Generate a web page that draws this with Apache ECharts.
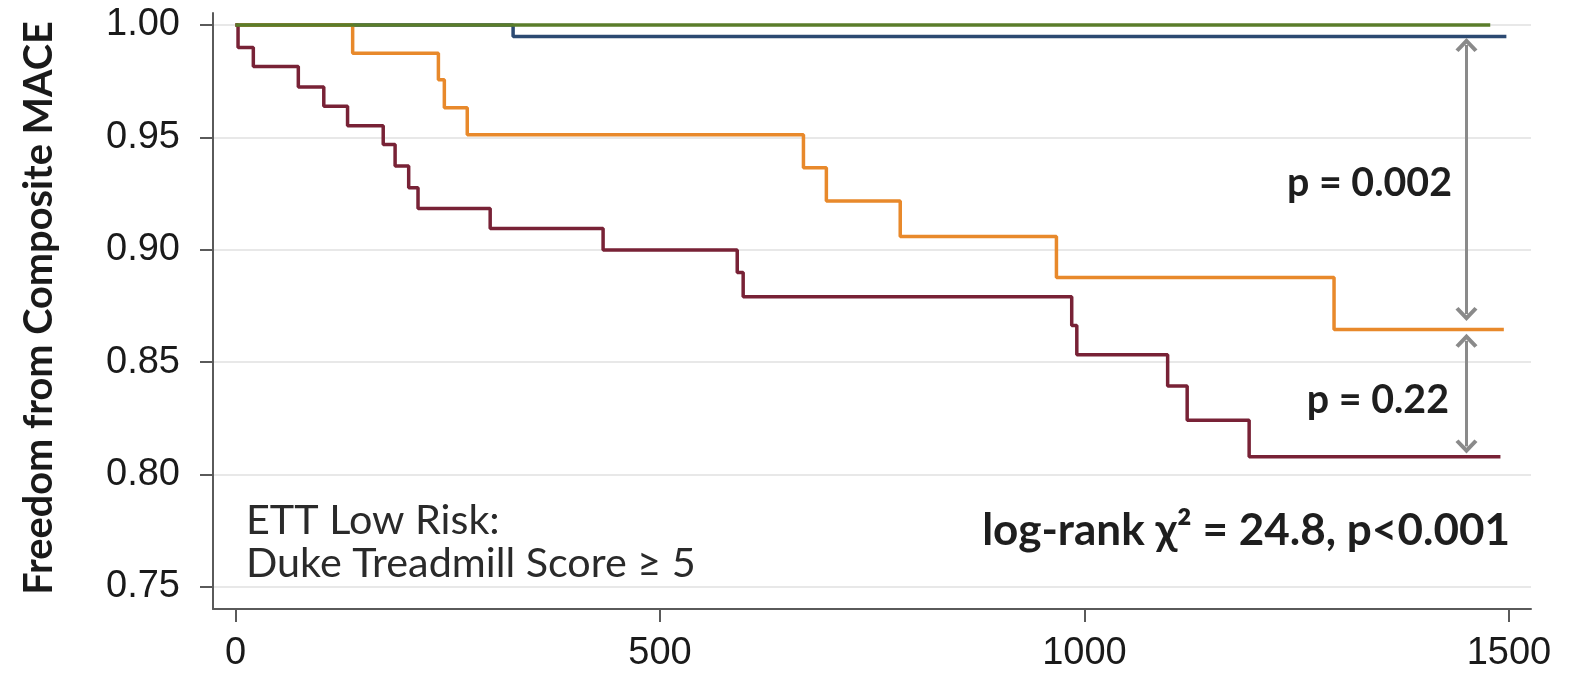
<!DOCTYPE html>
<html><head><meta charset="utf-8">
<script src="https://cdn.jsdelivr.net/npm/echarts@6/dist/echarts.min.js"></script>
<style>html,body{margin:0;padding:0;background:#fff}#c{width:1577px;height:678px}</style>
</head><body><div id="c"></div>
<script>
// ---- data ----
const xTicks = [0, 500, 1000, 1500];
const yTicks = [0.75, 0.80, 0.85, 0.90, 0.95, 1.00];

const greenT = [0, 1478];
const greenS = [1.0, 1.0];

const blueT = [0, 327, 1497];
const blueS = [1.0, 0.9948, 0.9948];

const orangeT = [0, 138, 239, 246, 273, 669, 696, 783, 967, 1294, 1494];
const orangeS = [1.0, 0.9874, 0.9756, 0.9631, 0.9512, 0.9365, 0.9217, 0.9059, 0.8877, 0.8645, 0.8645];

const redT = [0, 3, 21, 74, 104, 132, 174, 188, 204, 215, 300, 433, 591, 598, 985, 991, 1098, 1121, 1194, 1490];
const redS = [1.0, 0.990, 0.9815, 0.9724, 0.9638, 0.9552, 0.9468, 0.9372, 0.9276, 0.9183, 0.9094, 0.8999, 0.8899, 0.8791, 0.8663, 0.8533, 0.8394, 0.8242, 0.8079, 0.8079];

const arrowX = 1450;
const arrowUpper = [0.9911, 0.8714];
const arrowLower = [0.8595, 0.8125];

const yTitle = 'Freedom from Composite MACE';
const note1 = 'ETT Low Risk:';
const note2 = 'Duke Treadmill Score \u2265 5';
const logrank = 'log-rank \u03c7\u00b2 = 24.8, p<0.001';
const pUpper = 'p = 0.002';
const pLower = 'p = 0.22';

// ---- helpers ----
function pairs(t, s) { return t.map((v, i) => [v, s[i]]); }
const ctx = document.createElement('canvas').getContext('2d');
function fitSize(text, family, weight, target) {
  ctx.font = weight + ' 100px ' + family;
  return 100 * target / ctx.measureText(text).width;
}

const annFont = 'Lato';
const noteSize = fitSize(note2, annFont, 'normal', 450);
const lrSize = fitSize(logrank, annFont, 'bold', 528);
const pSize = fitSize(pUpper, annFont, 'bold', 165);
const titleSize = fitSize(yTitle, annFont, 'bold', 574);

const chev = 'path://M0,9 L9,0 L18,9 L15.5,11 L9,4.5 L2.5,11 Z';

const axisColor = '#5a5a5a';
const labelStyle = { color: '#1a1a1a', fontFamily: 'Liberation Sans', fontSize: 38 };
const gridLine = { show: true, lineStyle: { color: '#e8e8e8', width: 2, type: 'solid' } };

const chart = echarts.init(document.getElementById('c'), null, { renderer: 'canvas' });
chart.setOption({
  animation: false,
  backgroundColor: '#ffffff',
  grid: { left: 213, right: 46, top: 13, bottom: 69, containLabel: false },
  xAxis: {
    type: 'value', min: -26.5, max: 1526,
    axisLine: { show: true, onZero: false, lineStyle: { color: axisColor, width: 2 } },
    axisTick: { show: true, customValues: xTicks, length: 13, lineStyle: { color: axisColor, width: 2 } },
    axisLabel: Object.assign({ customValues: xTicks, margin: 26, formatter: v => String(v) }, labelStyle),
    splitLine: { show: false }
  },
  yAxis: {
    type: 'value', min: 0.7402, max: 1.0053,
    axisLine: { show: true, onZero: false, lineStyle: { color: axisColor, width: 2 } },
    axisTick: { show: true, customValues: yTicks, length: 13, lineStyle: { color: axisColor, width: 2 } },
    axisLabel: Object.assign({ customValues: yTicks, margin: 33, formatter: v => v.toFixed(2) }, labelStyle),
    splitLine: gridLine
  },
  series: [
    { name: 'blue', type: 'line', step: 'end', data: pairs(blueT, blueS), showSymbol: false, z: 3,
      lineStyle: { color: '#2c4a72', width: 3.5 } },
    { name: 'orange', type: 'line', step: 'end', data: pairs(orangeT, orangeS), showSymbol: false, z: 3,
      lineStyle: { color: '#e8892b', width: 3.5 } },
    { name: 'red', type: 'line', step: 'end', data: pairs(redT, redS), showSymbol: false, z: 3,
      lineStyle: { color: '#782236', width: 3.5 } },
    { name: 'green', type: 'line', step: 'end', data: pairs(greenT, greenS), showSymbol: false, z: 4,
      lineStyle: { color: '#5a7d2a', width: 3.5 } },
    {
      type: 'line', data: [], silent: true, z: 5,
      markLine: {
        silent: true, symbol: [chev, chev], symbolSize: [22, 14], label: { show: false },
        lineStyle: { color: '#8a8a8a', width: 3, type: 'solid' },
        data: [
          [{ coord: [arrowX, arrowUpper[0]] }, { coord: [arrowX, arrowUpper[1]] }],
          [{ coord: [arrowX, arrowLower[0]] }, { coord: [arrowX, arrowLower[1]] }]
        ]
      }
    }
  ],
  graphic: [
    { type: 'text', x: 39, y: 308, rotation: Math.PI / 2,
      style: { text: yTitle, fontFamily: annFont, fontWeight: 'bold', fontSize: titleSize, fill: '#1a1a1a', align: 'center', verticalAlign: 'middle' } },
    { type: 'text', x: 246, y: 521,
      style: { text: note1, fontFamily: annFont, fontSize: noteSize, fill: '#2a2a2a', align: 'left', verticalAlign: 'middle' } },
    { type: 'text', x: 246, y: 564,
      style: { text: note2, fontFamily: annFont, fontSize: noteSize, fill: '#2a2a2a', align: 'left', verticalAlign: 'middle' } },
    { type: 'text', x: 1510, y: 531,
      style: { text: logrank, fontFamily: annFont, fontWeight: 'bold', fontSize: lrSize, fill: '#1e1e1e', align: 'right', verticalAlign: 'middle' } },
    { type: 'text', x: 1452, y: 183,
      style: { text: pUpper, fontFamily: annFont, fontWeight: 'bold', fontSize: pSize, fill: '#1e1e1e', align: 'right', verticalAlign: 'middle' } },
    { type: 'text', x: 1449, y: 400,
      style: { text: pLower, fontFamily: annFont, fontWeight: 'bold', fontSize: pSize, fill: '#1e1e1e', align: 'right', verticalAlign: 'middle' } }
  ]
});
</script>
</body></html>
